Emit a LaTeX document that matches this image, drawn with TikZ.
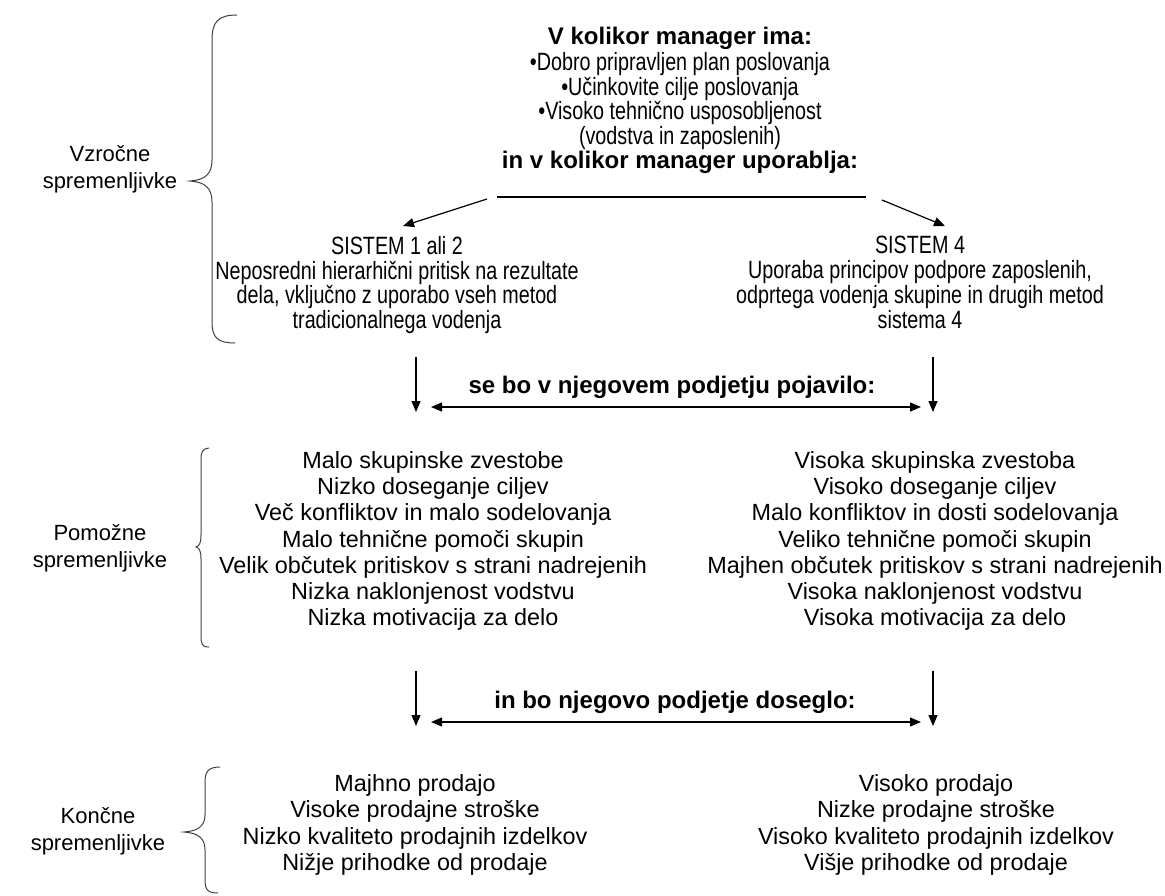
\documentclass[tikz,border=0pt]{standalone}
\usepackage{fontspec}
\setmainfont{Liberation Sans}
\newfontfamily\narrowfont[FakeStretch=0.79]{Liberation Sans}
\usetikzlibrary{arrows.meta}
\begin{document}
\begin{tikzpicture}[x=1pt,y=-1pt,
  narrowtxt/.style={align=center,inner sep=0pt,
    font=\narrowfont\fontsize{25}{24.8}\selectfont},
  boldtxt/.style={align=center,inner sep=0pt,
    font=\fontsize{24}{25}\selectfont\bfseries},
  plaintxt/.style={align=center,inner sep=0pt,
    font=\fontsize{23.4}{26.3}\selectfont},
  sidetxt/.style={align=center,inner sep=0pt,
    font=\fontsize{22}{27}\selectfont},
  brace/.style={draw=black!75,line width=1pt},
  conn/.style={line width=1.2pt,-{Triangle[width=9pt,length=11pt]}},
  bothconn/.style={line width=1.2pt,{Triangle[width=9pt,length=11pt]}-{Triangle[width=9pt,length=11pt]}}]
\useasboundingbox (0,0) rectangle (1165,895);

% ---- causal variables ----
\node[boldtxt] (hasT) at (680,38) {V kolikor manager ima:};
\node[narrowtxt] (hasL) at (680,101) {\textbullet Dobro pripravljen plan poslovanja\\
  \textbullet Učinkovite cilje poslovanja\\
  \textbullet Visoko tehnično usposobljenost\\
  (vodstva in zaposlenih)};
\node[boldtxt] (usesT) at (680,162) {in v kolikor manager uporablja:};
\coordinate (lineL) at (497,197);
\coordinate (lineR) at (866,197);
\draw[line width=1.2pt] (lineL) -- (lineR);

\node[narrowtxt,anchor=north] (sysA) at (397,236) {SISTEM 1 ali 2\\
  Neposredni hierarhični pritisk na rezultate\\
  dela, vključno z uporabo vseh metod\\
  tradicionalnega vodenja};
\node[narrowtxt,anchor=north] (sysB) at (920,236) {SISTEM 4\\
  Uporaba principov podpore zaposlenih,\\
  odprtega vodenja skupine in drugih metod\\
  sistema 4};
\coordinate (fromA) at (487,199);
\coordinate (toA) at (403,226);
\coordinate (fromB) at (882,200);
\coordinate (toB) at (945,226);
\draw[conn] (fromA) -- (toA);
\draw[conn] (fromB) -- (toB);

\draw[brace] (237,15) .. controls (218,15) and (212,22) .. (212,40) -- (212,160)
  .. controls (212,174) and (205,180) .. (190,181)
  .. controls (205,182) and (212,188) .. (212,202) -- (212,322)
  .. controls (212,338) and (218,343) .. (235,343);
\node[sidetxt] (causal) at (110,169) {Vzročne\\spremenljivke};

% ---- first transition ----
\coordinate (dA1) at (416,357);
\coordinate (dB1) at (933,357);
\coordinate (eA1) at (416,412);
\coordinate (eB1) at (933,412);
\draw[conn] (dA1) -- (eA1);
\draw[conn] (dB1) -- (eB1);
\node[boldtxt] (appear) at (672,387) {se bo v njegovem podjetju pojavilo:};
\coordinate (hA1) at (431,407);
\coordinate (hB1) at (921,407);
\draw[bothconn] (hA1) -- (hB1);

% ---- intervening variables ----
\node[plaintxt] (midA) at (433,541) {Malo skupinske zvestobe\\
  Nizko doseganje ciljev\\
  Več konfliktov in malo sodelovanja\\
  Malo tehnične pomoči skupin\\
  Velik občutek pritiskov s strani nadrejenih\\
  Nizka naklonjenost vodstvu\\
  Nizka motivacija  za delo};
\node[plaintxt] (midB) at (935,541) {Visoka skupinska zvestoba\\
  Visoko doseganje ciljev\\
  Malo konfliktov in dosti sodelovanja\\
  Veliko tehnične pomoči skupin\\
  Majhen občutek pritiskov s strani nadrejenih\\
  Visoka naklonjenost vodstvu\\
  Visoka motivacija  za delo};
\draw[brace] (209,448) .. controls (202,449) and (201,452) .. (201,460) -- (201,535)
  .. controls (201,544) and (199,546) .. (196,547)
  .. controls (199,548) and (201,550) .. (201,559) -- (201,636)
  .. controls (201,644) and (202,647) .. (209,647);
\node[sidetxt] (interv) at (100,548) {Pomožne\\spremenljivke};

% ---- second transition ----
\coordinate (dA2) at (416,671);
\coordinate (dB2) at (933,671);
\coordinate (eA2) at (416,726);
\coordinate (eB2) at (933,726);
\draw[conn] (dA2) -- (eA2);
\draw[conn] (dB2) -- (eB2);
\node[boldtxt] (reach) at (675,702) {in bo njegovo podjetje doseglo:};
\coordinate (hA2) at (431,722);
\coordinate (hB2) at (921,722);
\draw[bothconn] (hA2) -- (hB2);

% ---- end-result variables ----
\node[plaintxt] (endA) at (415,825) {Majhno prodajo\\
  Visoke prodajne stroške\\
  Nizko kvaliteto prodajnih izdelkov\\
  Nižje prihodke od prodaje};
\node[plaintxt] (endB) at (936,825) {Visoko prodajo\\
  Nizke prodajne stroške\\
  Visoko kvaliteto prodajnih izdelkov\\
  Višje prihodke od prodaje};
\draw[brace] (220,767) .. controls (208,767) and (205,772) .. (205,782) -- (205,815)
  .. controls (205,826) and (198,831) .. (184,832)
  .. controls (198,833) and (205,838) .. (205,850) -- (205,880)
  .. controls (205,890) and (208,893) .. (218,893);
\node[sidetxt] (final) at (98,831) {Končne\\spremenljivke};
\end{tikzpicture}
\end{document}
